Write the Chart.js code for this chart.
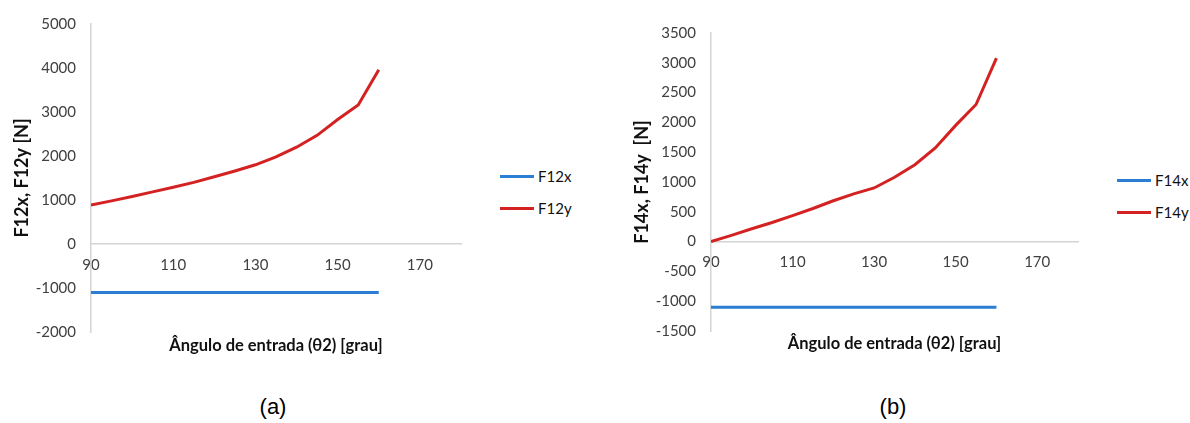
<!DOCTYPE html>
<html lang="pt">
<head>
<meta charset="UTF-8">
<title>Forças F12 e F14 x ângulo de entrada</title>
<script src="https://cdn.jsdelivr.net/npm/chart.js"></script>
<style>
  body { margin: 0; background: #fff; width: 1190px; height: 423px; position: relative; overflow: hidden; font-family: Lato, sans-serif; }
  .box { position: absolute; }
  .legend { position: absolute; font: 15px Lato, sans-serif; color: #111; }
  .legend .item { display: flex; align-items: center; height: 32px; }
  .legend .swatch { height: 3px; margin-right: 4px; }
  .caption { position: absolute; font: 22px "Liberation Sans", Arial, sans-serif; line-height: 26px; transform: translateX(-50%); color: #000; }
</style>
</head>
<body>
  <div class="box" id="boxA" style="left:0; top:0; width:470px; height:365px;"><canvas id="chartA"></canvas></div>
  <div class="legend" id="legendA" style="left:500px; top:160px;"></div>
  <div class="caption" style="left:273px; top:394px;">(a)</div>

  <div class="box" id="boxB" style="left:620px; top:0; width:468px; height:365px;"><canvas id="chartB"></canvas></div>
  <div class="legend" id="legendB" style="left:1117px; top:164px;"></div>
  <div class="caption" style="left:893px; top:394px;">(b)</div>

<script>
  // ângulo de entrada θ2 [grau]
  const theta = [90, 95, 100, 105, 110, 115, 120, 125, 130, 135, 140, 145, 150, 155, 160];

  // forças no pino 12 [N]
  const f12x = [-1100, -1100, -1100, -1100, -1100, -1100, -1100, -1100, -1100, -1100, -1100, -1100, -1100, -1100, -1100];
  const f12y = [885, 980, 1080, 1185, 1290, 1400, 1530, 1660, 1800, 1980, 2200, 2470, 2830, 3160, 3960];

  // forças no pino 14 [N]
  const f14x = [-1100, -1100, -1100, -1100, -1100, -1100, -1100, -1100, -1100, -1100, -1100, -1100, -1100, -1100, -1100];
  const f14y = [0, 105, 215, 320, 435, 555, 685, 800, 900, 1080, 1290, 1570, 1950, 2300, 3080];

  const xTicks = [90, 110, 130, 150, 170];
  const yTicksA = [-2000, -1000, 0, 1000, 2000, 3000, 4000, 5000];
  const yTicksB = [-1500, -1000, -500, 0, 500, 1000, 1500, 2000, 2500, 3000, 3500];

  const xTitle = 'Ângulo de entrada (θ2) [grau]';
  const blue = '#2a7fd4';
  const red = '#d42222';
  const axisGray = '#d4d4d4';
  const tickFont = { family: 'Lato', size: 15 };

  function series(label, ys, color) {
    return {
      label: label,
      data: theta.map((t, i) => ({ x: t, y: ys[i] })),
      borderColor: color,
      backgroundColor: color,
      borderWidth: 3,
      pointRadius: 0,
      tension: 0,
      fill: false
    };
  }

  function makeChart(id, datasets, yTicks, yTitle, pad, titleH) {
    return new Chart(document.getElementById(id), {
      type: 'line',
      data: { datasets: datasets },
      options: {
        responsive: true,
        maintainAspectRatio: false,
        animation: false,
        layout: { padding: pad },
        plugins: { legend: { display: false }, tooltip: { enabled: false } },
        scales: {
          x: {
            type: 'linear',
            min: 90,
            max: 180,
            position: { y: 0 },
            afterBuildTicks: s => { s.ticks = xTicks.map(v => ({ value: v })); },
            grid: { display: false, drawTicks: false },
            border: { display: true, color: axisGray, width: 1.5 },
            ticks: { color: '#404040', font: tickFont, padding: 12, maxRotation: 0, callback: v => String(v) }
          },
          // eixo inferior só para o título
          x2: {
            type: 'linear',
            min: 90,
            max: 180,
            position: 'bottom',
            afterFit: s => { s.height = titleH; },
            grid: { display: false, drawTicks: false },
            border: { display: false },
            ticks: { display: false },
            title: { display: true, text: xTitle, color: '#111', font: { family: 'Lato', size: 16.5, weight: 'bold' }, padding: 0 }
          },
          y: {
            type: 'linear',
            min: yTicks[0],
            max: yTicks[yTicks.length - 1],
            afterBuildTicks: s => { s.ticks = yTicks.map(v => ({ value: v })); },
            afterFit: s => { s.width = 91; },
            grid: { display: false, drawTicks: false },
            border: { display: true, color: axisGray, width: 1.5 },
            ticks: { color: '#404040', font: tickFont, padding: 15, callback: v => String(v) },
            title: { display: true, text: yTitle, color: '#111', font: { family: 'Lato', size: 18, weight: 'bold' }, padding: { top: 11, bottom: 0 } }
          }
        }
      }
    });
  }

  function buildLegend(chart, elId) {
    const el = document.getElementById(elId);
    chart.data.datasets.forEach(ds => {
      const item = document.createElement('div');
      item.className = 'item';
      const sw = document.createElement('span');
      sw.className = 'swatch';
      sw.style.width = '34px';
      sw.style.background = ds.borderColor;
      const txt = document.createElement('span');
      txt.textContent = ds.label;
      item.appendChild(sw);
      item.appendChild(txt);
      el.appendChild(item);
    });
  }

  const chartA = makeChart('chartA',
    [series('F12x', f12x, blue), series('F12y', f12y, red)],
    yTicksA, 'F12x, F12y [N]',
    { top: 22, right: 9, bottom: 9, left: 0 }, 24);

  const chartB = makeChart('chartB',
    [series('F14x', f14x, blue), series('F14y', f14y, red)],
    yTicksB, 'F14x, F14y  [N]',
    { top: 33, right: 10, bottom: 11, left: 0 }, 23);

  buildLegend(chartA, 'legendA');
  buildLegend(chartB, 'legendB');
</script>
</body>
</html>
